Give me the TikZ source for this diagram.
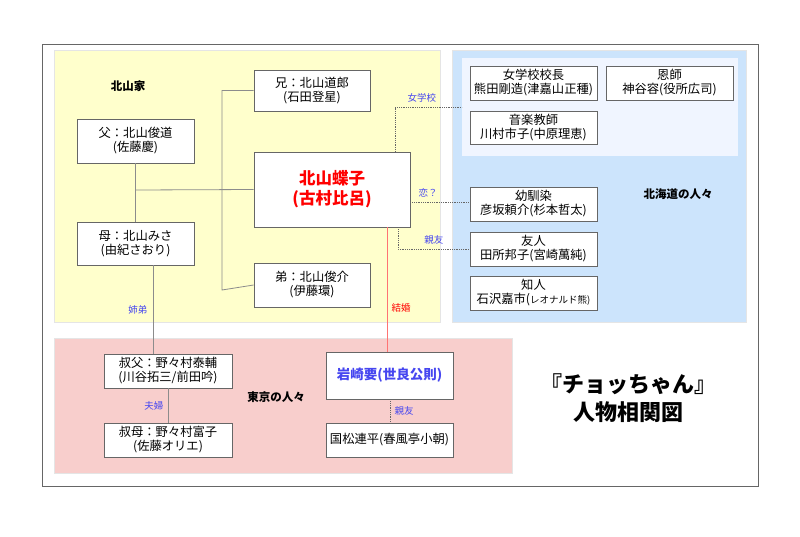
\documentclass[tikz,border=0pt]{standalone}
\usepackage{fontspec}
\setmainfont{Noto Sans CJK JP}
\definecolor{hblue}{RGB}{204,228,252}
\definecolor{hblue2}{RGB}{240,245,255}
\definecolor{kyel}{RGB}{255,255,204}
\definecolor{tpink}{RGB}{248,206,204}
\definecolor{lblue}{RGB}{70,70,240}
\begin{document}
\begin{tikzpicture}[x=1pt,y=-1pt,
  box/.style={draw=black!60,fill=white,line width=0.8pt,align=center,font=\fontsize{12.3}{14}\selectfont,inner sep=0pt},
  lab/.style={font=\fontsize{9.5}{10}\selectfont,text=lblue},
  solidc/.style={draw=black!45,line width=0.8pt},
  dotc/.style={draw=black!60,densely dotted,line width=0.8pt},
  grp/.style={font=\bfseries\fontsize{11.5}{12}\selectfont}]
\useasboundingbox (0,0) rectangle (800,536);
\fill[white] (0,0) rectangle (800,536);
\draw[black!60,line width=0.8pt] (42,44) rectangle (758,486);
\filldraw[fill=kyel,draw=black!10] (54,50) rectangle (440,322);
\filldraw[fill=hblue,draw=black!10] (452,50) rectangle (746,322);
\fill[fill=hblue2] (462,58) rectangle (738,156);
\filldraw[fill=tpink,draw=black!10] (54,338) rectangle (512,473);
\node[grp] (gk) at (128,86) {北山家};
\node[grp] (gh) at (678,194) {北海道の人々};
\node[grp] (gt) at (276,397) {東京の人々};
\node[font=\bfseries\fontsize{22}{28}\selectfont,align=center] (title) at (628,398) {『チョッちゃん』\\人物相関図};
\def\bx#1#2#3#4#5#6{\node[box,minimum width=#4-#2,minimum height=#5-#3] (#1) at ({(#2+#4)/2},{(#3+#5)/2}) {#6};}
\bx{ani}{254}{70}{370}{111}{兄：北山道郎\\(石田登星)}
\bx{chichi}{77}{119}{194}{163}{父：北山俊道\\(佐藤慶)}
\node[box,minimum width=156,minimum height=75,font=\bfseries\fontsize{16.5}{20}\selectfont,text=red] (main) at (332,189.5) {北山蝶子\\(古村比呂)};
\bx{haha}{77}{222}{194}{265}{母：北山みさ\\(由紀さおり)}
\bx{otouto}{254}{263}{370}{307}{弟：北山俊介\\(伊藤環)}
\bx{kocho}{470}{66}{597}{100}{女学校校長\\熊田剛造(津嘉山正種)}
\bx{onshi}{606}{66}{733}{100}{恩師\\神谷容(役所広司)}
\bx{ongaku}{470}{111}{597}{144}{音楽教師\\川村市子(中原理恵)}
\bx{osana}{470}{187}{597}{221}{幼馴染\\彦坂頼介(杉本哲太)}
\bx{yujin}{470}{232}{597}{266}{友人\\田所邦子(宮崎萬純)}
\bx{chijin}{470}{276}{597}{310}{知人\\石沢嘉市(\fontsize{9.5}{10}\selectfont レオナルド熊)}
\bx{oji}{104}{354}{232}{388}{叔父：野々村泰輔\\(川谷拓三/前田吟)}
\bx{oba}{104}{423}{232}{457}{叔母：野々村富子\\(佐藤オリエ)}
\node[box,minimum width=127,minimum height=47,font=\bfseries\fontsize{13.5}{15}\selectfont,text=lblue] (iwa) at (389.5,375.5) {岩崎要(世良公則)};
\bx{kuni}{326}{423}{453}{457}{国松連平(春風亭小朝)}
% family tree
\draw[solidc] (ani.west) -| (222,290) -- (otouto.west);
\draw[solidc] (chichi.south) -- (haha.north);
\draw[solidc] (136,190) -- (main.west);
\draw[solidc] (haha.south -| 153,0) -- node[lab,left=2pt,pos=0.5] {姉弟} (oji.north -| 153,0);
\draw[solidc] (oji.south -| 168,0) -- node[lab,left=1pt] {夫婦} (oba.north -| 168,0);
\draw[draw=red!55,line width=0.8pt] (main.south -| 387,0) -- node[lab,text=red,right=1pt,pos=0.65] {結婚} (iwa.north -| 387,0);
\draw[dotc] (iwa.south -| 390,0) -- node[lab,right=1pt] {親友} (kuni.north -| 390,0);
\coordinate (sch) at (462,107);
\draw[dotc] (main.north -| 395,0) |- node[lab,pos=0.7,above=1pt] {女学校} (sch);
\draw[dotc] (main.east |- 0,202) -- node[lab,pos=0.3,above=1pt] {恋？} (osana.west |- 0,202);
\draw[dotc] (main.south -| 398,0) |- node[lab,pos=0.75,above=1pt] {親友} (yujin.west |- 0,249);
\end{tikzpicture}
\end{document}
